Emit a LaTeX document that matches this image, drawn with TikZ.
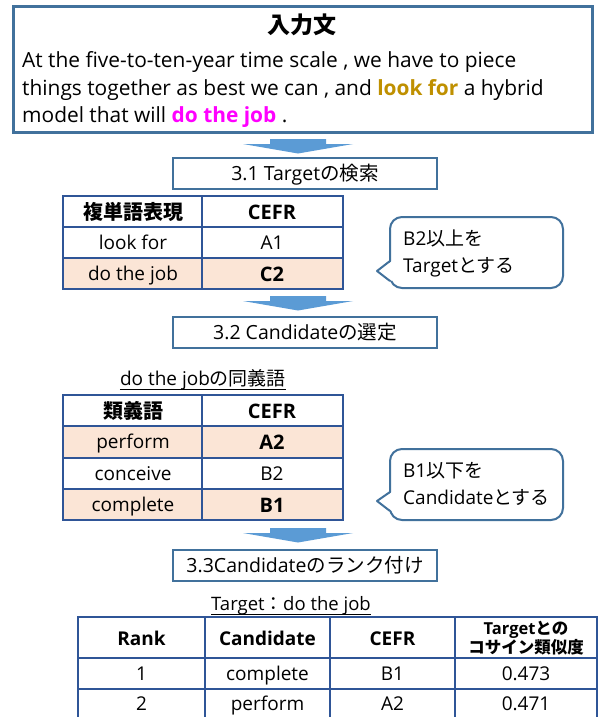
\documentclass[tikz,border=0pt]{standalone}
\usepackage{fontspec}
\setmainfont{Open Sans}
\newfontfamily\jp{Noto Sans CJK JP}
\definecolor{frameblue}{HTML}{41719C}
\definecolor{tblblue}{HTML}{2F5597}
\definecolor{peach}{HTML}{FBE5D6}
\definecolor{arrowblue}{HTML}{5B9BD5}
\definecolor{gold}{HTML}{BF9000}
\definecolor{magent}{HTML}{FF00FF}
\begin{document}
\begin{tikzpicture}[x=1pt,y=-1pt,
  stepbox/.style={draw=frameblue,line width=2pt,fill=white,minimum width=264pt,minimum height=31pt,
     inner sep=0pt,font=\fontsize{19.5}{21}\selectfont,text height=14pt,text depth=0pt},
  tline/.style={draw=tblblue,line width=2.8pt},
  ctext/.style={font=\fontsize{19}{21}\selectfont,inner sep=0pt,text height=13.5pt,text depth=0pt},
  htext/.style={font=\fontsize{20}{22}\selectfont\bfseries,inner sep=0pt,text height=14pt,text depth=0pt},
  body/.style={anchor=base west,inner sep=0pt,font=\fontsize{20.9}{23}\selectfont},
  callout/.style={draw=frameblue,line width=2pt,fill=white,rounded corners=12pt},
  capt/.style={inner sep=0pt,text height=13pt,text depth=0pt},
  uline/.style={draw=black,line width=1pt},
]
\useasboundingbox (0,0) rectangle (605,717);
\clip (0,0) rectangle (605,717);
\fill[white] (0,0) rectangle (605,717);

% ---------- top input box
\draw[draw=frameblue,line width=3pt] (13,7) rectangle (592,132);
\node[inner sep=0pt,font=\fontsize{23}{25}\selectfont\jp\bfseries] (title) at (302,25) {入力文};
\node[body] (l1) at (22,67) {At the five-to-ten-year time scale , we have to piece};
\node[body] (l2) at (22,95) {things together as best we can , and \textcolor{gold}{\bfseries look for} a hybrid};
\node[body] (l3) at (22,122) {model that will \textcolor{magent}{\bfseries do the job} .};

% ---------- block arrows
\foreach \y in {139,296,528}{
  \fill[arrowblue] (270,\y) -- (326,\y) -- (326,\y+5) -- (353,\y+5) -- (298,\y+14.5) -- (243,\y+5) -- (270,\y+5) -- cycle;
}

% ---------- step boxes
\node[stepbox] (s1) at (305,173.5) {3.1 Target{\jp の検索}};
\node[stepbox] (s2) at (305,332.5) {3.2 Candidate{\jp の選定}};
\node[stepbox] (s3) at (305,565.5) {3.3Candidate{\jp のランク付け}};

% ---------- table 1
\fill[peach] (63,258) rectangle (343,289);
\draw[tline] (63,196) rectangle (343,289);
\draw[tline] (202,196) -- (202,289);
\draw[tline] (63,227) -- (343,227);
\draw[tline] (63,258) -- (343,258);
\node[htext] (t1h1) at (133,212) {\jp 複単語表現};
\node[htext] (t1h2) at (272,212) {CEFR};
\node[ctext] (t1a) at (133,243) {look for};
\node[ctext] (t1b) at (272,243) {A1};
\node[ctext] (t1c) at (133,274) {do the job};
\node[htext] (t1d) at (272,274) {C2};

% ---------- callout 1
\draw[callout] (390,217) rectangle (563,288);
\fill[white] (392,261) -- (377,271) -- (392,281) -- cycle;
\draw[draw=frameblue,line width=2pt,line join=round] (390,261) -- (377,271) -- (390,281);
\node[ctext,anchor=west] (c1a) at (403,239) {B2{\jp 以上を}};
\node[ctext,anchor=west] (c1b) at (403,266) {Target{\jp とする}};

% ---------- synonyms caption
\node[capt,font=\fontsize{19}{21}\selectfont] (cap2) at (203,379) {do the job{\jp の同義語}};
\draw[uline] ([yshift=-4pt]cap2.south west) -- ([yshift=-4pt]cap2.south east);

% ---------- table 2
\fill[peach] (63,426) rectangle (343,458);
\fill[peach] (63,489) rectangle (343,520);
\draw[tline] (63,395) rectangle (343,520);
\draw[tline] (202,395) -- (202,520);
\draw[tline] (63,426) -- (343,426);
\draw[tline] (63,458) -- (343,458);
\draw[tline] (63,489) -- (343,489);
\node[htext] (t2h1) at (133,411) {\jp 類義語};
\node[htext] (t2h2) at (272,411) {CEFR};
\node[ctext] (t2a) at (133,442) {perform};
\node[htext] (t2b) at (272,442) {A2};
\node[ctext] (t2c) at (133,474) {conceive};
\node[ctext] (t2d) at (272,474) {B2};
\node[ctext] (t2e) at (133,505) {complete};
\node[htext] (t2f) at (272,505) {B1};

% ---------- callout 2
\draw[callout] (390,449) rectangle (563,520);
\fill[white] (392,492) -- (377,501) -- (392,511) -- cycle;
\draw[draw=frameblue,line width=2pt,line join=round] (390,492) -- (377,501) -- (390,511);
\node[ctext,anchor=west] (c2a) at (403,471) {B1{\jp 以下を}};
\node[ctext,anchor=west] (c2b) at (403,498) {Candidate{\jp とする}};

% ---------- target caption
\node[capt,font=\fontsize{18.5}{20}\selectfont] (cap3) at (291,604) {Target{\jp ：}do the job};
\draw[uline] ([yshift=-4pt]cap3.south west) -- ([yshift=-4pt]cap3.south east);

% ---------- table 3
\draw[tline] (78,617) rectangle (597,722);
\foreach \x in {205,330,455}{\draw[tline] (\x,617) -- (\x,722);}
\draw[tline] (78,658) -- (597,658);
\draw[tline] (78,689) -- (597,689);
\node[htext,font=\fontsize{19}{21}\selectfont\bfseries] (r0a) at (141.5,638) {Rank};
\node[htext,font=\fontsize{19}{21}\selectfont\bfseries] (r0b) at (267.5,638) {Candidate};
\node[htext,font=\fontsize{19}{21}\selectfont\bfseries] (r0c) at (392.5,638) {CEFR};
\node[inner sep=0pt,align=center,font=\fontsize{16.5}{19}\selectfont\bfseries] (r0d) at (526,638) {Target{\jp との}\\{\jp コサイン類似度}};
\node[ctext] (r1a) at (141.5,674) {1};
\node[ctext] (r1b) at (267.5,674) {complete};
\node[ctext] (r1c) at (392.5,674) {B1};
\node[ctext] (r1d) at (526,674) {0.473};
\node[ctext] (r2a) at (141.5,704) {2};
\node[ctext] (r2b) at (267.5,704) {perform};
\node[ctext] (r2c) at (392.5,704) {A2};
\node[ctext] (r2d) at (526,704) {0.471};
\end{tikzpicture}
\end{document}
